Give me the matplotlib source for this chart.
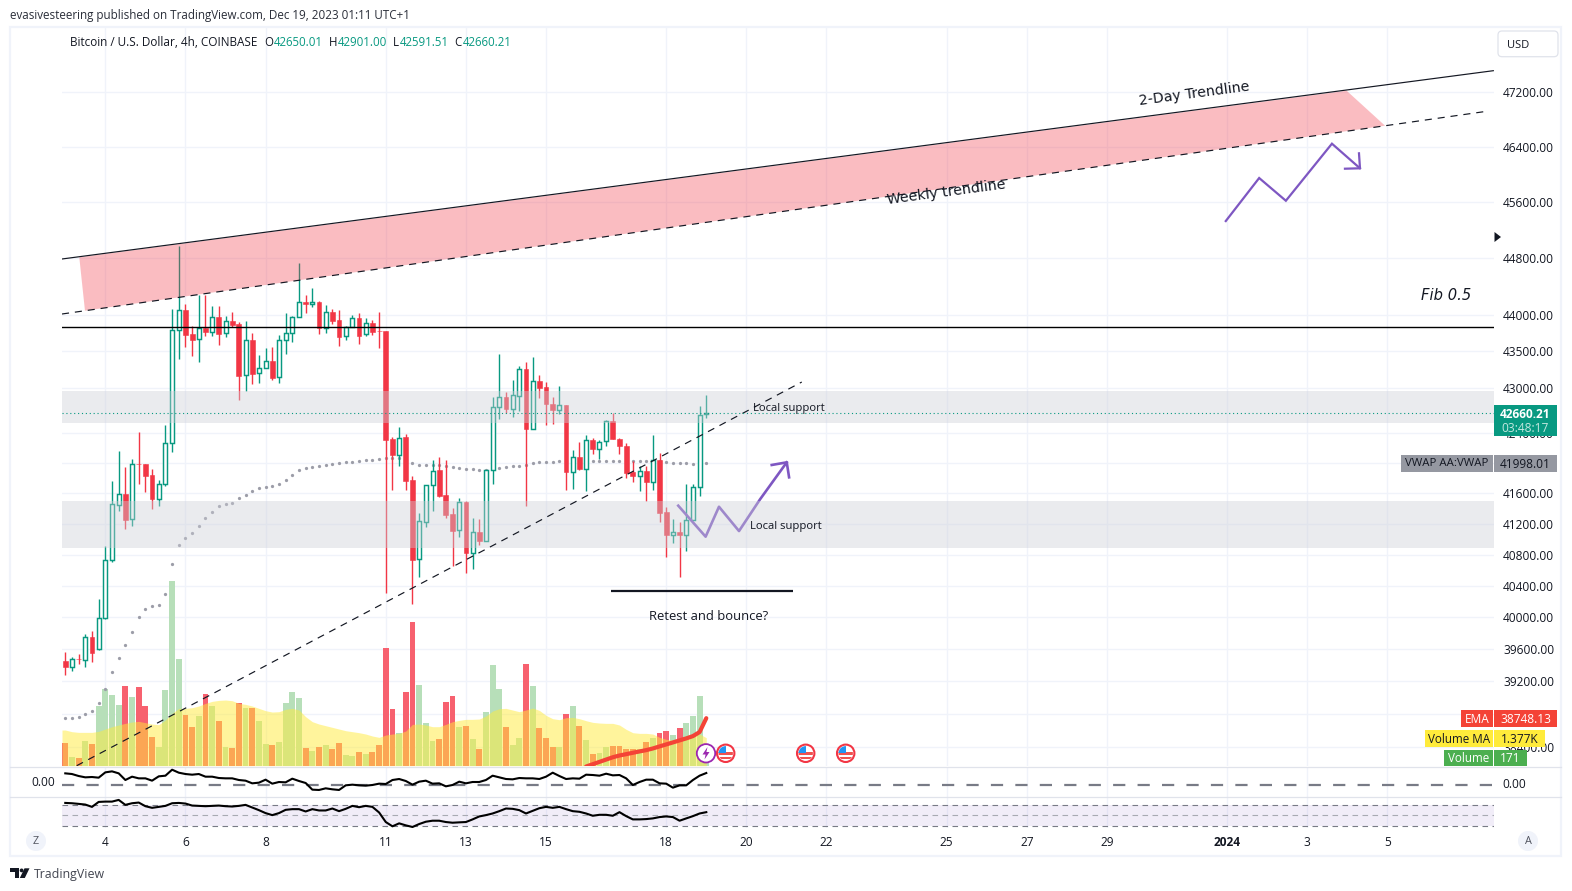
import numpy as np
import matplotlib
matplotlib.use("Agg")
import matplotlib.pyplot as plt
from matplotlib.patches import Rectangle, Circle, Polygon, FancyBboxPatch

# ---------- data ----------
opens = [39448,39382,39482,39465,39757,39600,39990,40727,41446,41592,41262,41983,41975,41830,41522,41717,42258,43792,44074,43742,
 43664,43815,43760,43977,43746,43921,43880,43170,43659,43197,43266,43370,43143,43654,43750,43972,44185,44153,44185,43820,
 44046,43935,43705,43830,43963,43733,43894,43783,43783,42307,42094,42334,41765,40739,41224,41709,41896,41570,41323,41114,
 41483,40820,41092,40970,41905,42745,42882,42714,42891,43257,42449,43094,43014,42789,42704,42775,41879,42076,41918,42303,
 42182,42290,42560,42316,42223,41870,41822,41892,41743,42036,41345,41058,41092,41054,41241,41683,42650.01]
highs = [39561,39498,39545,39795,39833,40230,40905,41756,42152,41940,42045,42405,41983,41913,41765,42502,44083,44968,44153,43852,
 44278,44282,44130,44130,43990,44046,43907,43921,43755,43452,43540,43553,43728,44028,43990,44726,44282,44378,44199,44139,
 44083,44074,43852,44000,44032,43958,43935,44046,43783,42334,42480,42383,41817,41332,41709,42040,42080,42040,41397,41527,
 41492,41270,41262,41905,42882,43463,42949,43111,43297,43352,43427,43180,43080,42874,43027,42775,42170,42267,42369,42325,
 42294,42569,42667,42330,42263,42018,41948,41948,42360,42129,41410,41258,41224,41713,41713,42755,42901.00]
lows = [39274,39324,39411,39374,39440,39590,39980,40700,41365,41130,41168,41713,41609,41390,41427,41687,42138,43397,43562,43438,
 43356,43710,43714,43590,43700,43830,42842,42954,43058,43071,43266,43111,43071,43466,43631,43972,44032,44106,43742,43746,
 43880,43576,43659,43830,43604,43714,43728,43549,40305,41635,41960,41635,40167,40518,41160,41362,41548,41267,40650,41020,
 40560,40612,40927,40970,41717,42578,42667,42604,42689,41431,42449,42860,42498,42520,42645,41635,41648,41896,41622,42107,
 42049,42214,42307,42107,41800,41743,41622,41496,41635,41219,40773,40952,40518,40846,41241,41557,42591.51]
closes = [39374,39482,39474,39757,39549,39990,40735,41450,41592,41245,41983,41975,41817,41518,41722,42263,43792,44070,43728,43659,
 43815,43760,43972,43742,43916,43866,43166,43654,43193,43270,43366,43134,43654,43750,43972,44180,44148,44180,43820,44042,
 43921,43700,43834,43958,43714,43889,43769,43774,42294,42094,42330,41756,40735,41228,41709,41892,41557,41310,41110,41475,
 40816,41088,40970,41905,42745,42877,42709,42904,43257,42445,43089,43005,42780,42700,42771,41874,42076,41909,42303,42178,
 42276,42556,42312,42214,41857,41817,41892,41739,42036,41336,41050,41088,41054,41241,41683,42635,42660.21]
volume = [1115,426,377,1214,1066,2936,3772,3477,2985,3920,3378,3870,2936,1410,918,3723,9086,5248,2493,1902,
 2444,3526,2936,2198,918,869,3083,2837,2837,2198,1066,1017,1164,3083,3624,3329,869,722,918,1017,
 820,1115,525,476,672,574,672,1017,5789,2788,1591,3624,7068,3969,2099,1214,1312,3132,3428,1902,
 1952,1312,820,2640,4953,3772,1902,1017,1361,5002,3920,1853,1361,918,918,2542,2936,1952,1263,574,
 623,918,968,968,820,820,820,1164,1361,1607,1706,1509,1853,2099,2444,3428,171]
volume_ma = [1755,1673,1640,1640,1640,1689,1804,1919,2001,2083,2148,2181,2116,2050,2017,2247,2575,2821,2821,2854,
 2936,3067,3165,3214,3231,3198,3067,3018,2936,2821,2706,2640,2657,2772,2821,2739,2411,2165,2050,1968,
 1886,1804,1722,1673,1624,1558,1460,1394,1509,1558,1591,1706,2034,2050,2001,1919,1919,2034,2165,2230,
 2280,2280,2296,2444,2690,2804,2821,2739,2657,2739,2837,2722,2476,2312,2263,2362,2378,2312,2214,2132,
 2099,2083,2083,2001,1788,1624,1591,1591,1558,1394,1296,1263,1296,1394,1492,1558,1377]
vwap = [38750,38750,38762,38798,38835,38935,39107,39320,39495,39657,39810,40000,40105,40138,40160,40290,40680,40922,41011,41075,
 41165,41267,41357,41427,41449,41462,41531,41579,41630,41670,41683,41691,41722,41774,41840,41905,41931,41944,41958,41971,
 41983,41996,42009,42009,42022,42031,42036,42049,42058,42063,42063,42030,41996,41970,41970,41970,41970,41957,41944,41931,
 41918,41918,41905,41905,41918,41931,41944,41957,41961,41970,41992,42005,42005,42010,42023,42023,42023,42023,42023,42023,
 42023,42023,42023,42018,42023,42023,42023,42018,42018,42018,42005,41996,41992,41990,41985,41990,41998.01]
ema_start = 78
ema = [38162,38190,38218,38246,38274,38295,38311,38328,38344,38360,38380,38405,38429,38453,38478,38502,38530,38579,38748.13]
osc = [35,33,27,23,24,22,38,41,35,15,25,20,20,13,26,28,46,37,33,31,33,25,25,21,20,20,15,13,5,7,16,4,9,8,19,12,6,-14,-15,-10,
 -13,-15,-1,1,-1,-2,0,4,3,15,18,12,1,10,13,4,5,-4,0,10,5,9,9,15,28,23,18,17,21,20,20,18,25,37,27,18,20,19,31,30,28,34,29,30,20,0,
 9,16,16,5,4,-8,-1,-1,15,28,36]
rsi = [73.1,72.5,71.3,70,65.6,75,75.6,75.6,78.8,69.4,72.5,73.8,66.9,63.8,65.6,67.5,72.5,73.1,71.9,68.1,
 67.5,66.9,67.5,68.1,66.9,66.3,67.5,69.4,64.4,59.4,53.8,50,53.8,60,61.3,61.3,56.9,61.3,58.8,58.8,
 62.5,57.5,61.9,67.5,65,67.5,65.6,55,36.9,28.8,34.4,30.6,27.5,33.1,37.5,39.4,39.4,36.9,35.6,36.3,
 36.9,41.9,47.5,50,53.1,57.5,62.5,61.9,59.4,53.1,58.1,63.1,65.6,63.8,65.6,61.3,57.5,56.3,53.1,48.8,
 50.6,50.6,48.8,55.6,48.1,41.9,41.9,42.5,43.8,46.3,47.5,46.3,39.4,43.8,48.1,53.1,55.6]

price_ticks = [47200,46400,45600,44800,44000,43500,43000,42400,42000,41600,41200,40800,40400,40000,39600,39200,38800,38400]
time_ticks = [6,18,30,48,60,72,90,102,114,132,144,156,174,186,198]
time_labels = ["4","6","8","11","13","15","18","20","22","25","27","29","2024","3","5"]

band_upper = (42531, 42958)
band_lower = (40887, 41494)
fib_level = 43830
last_price = 42660.21
two_day_x, two_day_y = [-0.49,213.87],[44784,47523]
weekly_x, weekly_y = [-0.49,213.12],[44014,46922]
pink_x, pink_y = [2.1,191.9,197.65,2.95],[44808,47224,46706,44060]
up_x, up_y = [1.71,110.3],[38172,43080]
path1_x, path1_y = [173.8,178.8,182.8,189.7,193.9],[45323,45942,45614,46442,46083]
head1_x, head1_y = [191.65,193.9,193.75],[46077,46083,46301]
path2_x, path2_y = [91.8,95.9,97.9,100.9,104.05,108.05],[41433,41030,41419,41103,41516,42003]
head2_x, head2_y = [105.8,108.05,108.4],[41968,42003,41805]
support_x, support_y = [81.8,109.0],[40337,40337]

# ---------- layout helpers ----------
W, H = 1572, 891
fig = plt.figure(figsize=(W/100, H/100), dpi=100, facecolor="white")
plt.rcParams["font.family"] = "Open Sans"
def pane(l, t, r, b, z):
    a = fig.add_axes([l/W, 1-b/H, (r-l)/W, (b-t)/H], zorder=z)
    a.patch.set_alpha(0)
    for s in a.spines.values():
        s.set_visible(False)
    a.set_xlim(-0.49, 213.97)
    a.minorticks_off()
    return a
TXT = "#131722"; GRID = "#f0f3fa"; UP = "#089981"; DN = "#f23645"; SEP = "#e0e3eb"
X0, X1, YT, YB = 62, 1494, 28, 765.7
ylim = (38172, 48167)
idx = np.arange(len(opens))

# background with grid and price scale
bg = pane(X0, YT, X1, YB, 1)
bg.set_yscale("log"); bg.set_ylim(*ylim)
bg.set_yticks(price_ticks); bg.set_yticklabels([f"{p:.2f}" for p in price_ticks])
bg.minorticks_off()
bg.yaxis.tick_right()
bg.tick_params(axis="y", length=0, pad=6.5, labelsize=8.6, labelcolor=TXT)
bg.set_xticks(time_ticks); bg.tick_params(axis="x", length=0, labelbottom=False)
bg.grid(True, color=GRID, lw=1.0)
bg.set_axisbelow(True)

# volume
av = pane(X0, YT, X1, YB, 2)
av.set_ylim(0, (YB-YT)*49.2); av.axis("off")
vcol = ["#b7dfb9" if c >= o else "#f7616f" for o, c in zip(opens, closes)]
av.bar(idx, volume, width=0.88, color=vcol, linewidth=0)
av.fill_between(np.r_[-0.49, idx], np.r_[volume_ma[0], volume_ma], 0, color="#ffeb3b", alpha=0.5, linewidth=0)

# price
ax = pane(X0, YT, X1, YB, 3)
ax.set_yscale("log"); ax.set_ylim(*ylim); ax.minorticks_off()
ax.axis("off")
ax.scatter(idx, vwap, s=5.5, color="#9c9da8", linewidths=0, zorder=2.5)
for i, (o, h, l, c) in enumerate(zip(opens, highs, lows, closes)):
    col = UP if c >= o else DN
    ax.plot([i, i], [l, h], color=col, lw=1.0, zorder=3, solid_capstyle="butt")
    top, bot = max(o, c), min(o, c)
    if c >= o:
        ax.bar(i, top-bot, bottom=bot, width=0.60, facecolor="white", edgecolor=col, linewidth=1.05, zorder=3.1)
    else:
        ax.bar(i, top-bot, bottom=bot, width=0.72, facecolor=col, edgecolor=col, linewidth=0.4, zorder=3.1)
PURPLE = "#7e57c2"
ax.plot(path1_x, path1_y, color=PURPLE, lw=1.6, zorder=3.5, solid_joinstyle="miter")
ax.plot(head1_x, head1_y, color=PURPLE, lw=1.6, zorder=3.5)
ax.plot(path2_x, path2_y, color=PURPLE, lw=1.9, zorder=3.5)
ax.plot(head2_x, head2_y, color=PURPLE, lw=1.9, zorder=3.5)
for lo, hi in (band_upper, band_lower):
    ax.axhspan(lo, hi, facecolor="#cdd0d8", alpha=0.41, linewidth=0, zorder=4)
ax.fill(pink_x, pink_y, facecolor="#f23645", alpha=0.33, linewidth=0, zorder=4)
ax.plot(two_day_x, two_day_y, color="#131722", lw=0.85, zorder=5)
ax.plot(weekly_x, weekly_y, color="#131722", lw=0.85, ls=(0, (6, 5)), zorder=5)
ax.plot(up_x, up_y, color="#131722", lw=0.85, ls=(0, (6, 5)), zorder=5)
ax.axhline(fib_level, color="#000000", lw=1.0, zorder=5)
ax.axhline(last_price, color=UP, lw=0.8, ls=(0, (1, 2.5)), zorder=5)
ax.plot(support_x, support_y, color="#131722", lw=1.6, zorder=5, solid_capstyle="butt")
ax.plot(idx[ema_start:], ema, color="#f44336", lw=3.0, zorder=5, solid_capstyle="round")

# oscillator pane
a1 = pane(X0, 766.7, X1, 797.3, 3)
a1.set_ylim(-37, 55)
a1.set_xticks(time_ticks); a1.set_yticks([])
a1.tick_params(axis="x", length=0, labelbottom=False)
a1.grid(True, axis="x", color=GRID, lw=1.0); a1.set_axisbelow(True)
a1.axhline(0, color="#787b86", lw=1.6, ls=(0, (5.5, 5.5)))
a1.plot(idx, osc, color="#000000", lw=1.5, zorder=4)

# RSI pane
a2 = pane(X0, 797.3, X1, 828, 3)
a2.set_ylim(25.6, 83.75)
a2.axhspan(30, 70, facecolor="#7e57c2", alpha=0.1, linewidth=0)
for lvl, c in ((70, "#787b86"), (50, "#a8aab2"), (30, "#787b86")):
    a2.axhline(lvl, color=c, lw=0.8, ls=(0, (5, 4)))
a2.set_xticks(time_ticks); a2.set_xticklabels(time_labels); a2.set_yticks([])
a2.tick_params(axis="x", length=0, pad=5.6, labelsize=8.6, labelcolor=TXT)
for tl, s in zip(a2.get_xticklabels(), time_labels):
    if s == "2024":
        tl.set_fontweight("bold")
a2.grid(True, axis="x", color=GRID, lw=1.0); a2.set_axisbelow(True)
a2.plot(idx, rsi, color="#000000", lw=1.5, zorder=4)

# ---------- overlay in figure pixels ----------
ov = fig.add_axes([0, 0, 1, 1], zorder=10)
ov.set_xlim(0, W); ov.set_ylim(H, 0); ov.axis("off"); ov.patch.set_alpha(0)
ov.add_patch(Rectangle((10, 27), 1551, 828.5, fill=False, edgecolor=GRID, lw=1.6))
for y in (766.5, 797.3):
    ov.plot([10, 1561], [y, y], color=SEP, lw=0.9)

def t(x, y, s, size=8.6, color=TXT, ha="left", va="center", **kw):
    return ov.text(x, y, s, fontsize=size, color=color, ha=ha, va=va, **kw)

t(10, 15, "evasivesteering published on TradingView.com, Dec 19, 2023 01:11 UTC+1", size=8.4, color="#2a2e39")
t(70, 42, "Bitcoin / U.S. Dollar, 4h, COINBASE", size=8.45)
for x, lab, xv, val in ((264, "O", 274, "42650.01"), (329, "H", 338, "42901.00"),
                        (393, "L", 400, "42591.51"), (454, "C", 463, "42660.21")):
    t(x, 42, lab, size=8.3)
    t(xv, 42, val, size=8.3, color=UP)

# annotations
t(1194, 93.5, "2-Day Trendline", size=10.2, ha="center", rotation=7.5, rotation_mode="anchor", family="DejaVu Sans")
t(946, 192, "Weekly trendline", size=10.2, ha="center", rotation=7.5, rotation_mode="anchor", family="DejaVu Sans")
t(1446.5, 295.5, "Fib 0.5", size=10.6, ha="center", style="italic", family="DejaVu Sans")
t(789, 408, "Local support", size=8.1, ha="center")
t(786, 527, "Local support", size=8.1, ha="center")
t(709, 617, "Retest and bounce?", size=9.4, ha="center")

# USD button and scale marks
ov.add_patch(FancyBboxPatch((1500, 33), 56, 21.7, boxstyle="round,pad=2,rounding_size=4", fc="white", ec=SEP, lw=0.9))
t(1507, 45.5, "USD", size=8.0)
ov.add_patch(Polygon([(1494.5, 232), (1494.5, 242), (1501, 237)], closed=True, fc=TXT, ec="none"))

# value labels
def box(x0, x1, y0, y1, c):
    ov.add_patch(Rectangle((x0, y0), x1-x0, y1-y0, fc=c, ec="none", zorder=5))
def boxtext(*a, **k):
    k.setdefault("zorder", 6)
    return t(*a, **k)
box(1494, 1556.7, 405, 435.7, UP)
boxtext(1525.5, 414.3, "42660.21", color="white", ha="center", fontweight="bold", size=8.6)
boxtext(1525.5, 428.7, "03:48:17", color="#c4e8e0", ha="center", size=8.6)
box(1401, 1493, 455, 471.7, "#9598a1"); box(1494, 1556.7, 455, 471.7, "#9598a1")
boxtext(1447, 464, "VWAP AA:VWAP", ha="center", size=8.2)
boxtext(1525.5, 464, "41998.01", ha="center", size=8.6)
box(1461, 1493, 710, 726.7, "#f44336"); box(1494, 1556.7, 710, 726.7, "#f44336")
boxtext(1477, 719.5, "EMA", color="white", ha="center", size=8.6)
boxtext(1525.5, 719.5, "38748.13", color="white", ha="center", size=8.6)
box(1425, 1493, 730, 746.7, "#ffeb3b"); box(1494, 1545, 730, 746.7, "#ffeb3b")
boxtext(1459, 739.5, "Volume MA", ha="center", size=8.4)
boxtext(1519.5, 739.5, "1.377K", ha="center", size=8.6)
box(1444, 1493, 750, 766, "#4caf50"); box(1494, 1527, 750, 766, "#4caf50")
boxtext(1468.5, 759, "Volume", color="white", ha="center", size=8.4)
boxtext(1510.5, 759, "171", color="white", ha="center", size=8.6)
t(1502, 784.5, "0.00", size=8.6)
t(31, 782, "0.00", size=8.6)

# round buttons
for cx, lab in ((36, "Z"), (1528, "A")):
    ov.add_patch(Circle((cx, 841), 10, fc=GRID, ec="none"))
    t(cx, 841, lab, size=7.8, ha="center", color="#50535e")

# event icons
def flag(cx, cy):
    c = Circle((cx, cy), 8.7, fc="white", ec="#f23645", lw=1.5, zorder=7)
    ov.add_patch(c)
    inner = Circle((cx, cy), 7.2, transform=ov.transData)
    for (x, y, w, h, col) in ((-8, -8, 16, 3.4, "#ffffff"), (-8, -1, 16, 2.4, "#ef5350"), (-8, 3.6, 16, 2.4, "#ef5350"),
                              (-8, -8, 8.5, 7.6, "#2196f3")):
        r = Rectangle((cx+x, cy+y), w, h, fc=col, ec="none", zorder=8)
        ov.add_patch(r); r.set_clip_path(inner)
flag(725.7, 753.3); flag(805.7, 753.3); flag(845.7, 753.3)
ov.add_patch(Circle((706, 753.3), 9.2, fc="white", ec="#9c27b0", lw=1.3, zorder=9))
ov.add_patch(Polygon([(707.5, 747), (702.5, 754.5), (705.6, 754.5), (704.5, 759.5), (709.5, 752), (706.4, 752)],
                     closed=True, fc="#9c27b0", ec="none", zorder=10))

# logo
ov.add_patch(Polygon([(10, 868.3), (19.3, 868.3), (19.3, 878), (15, 878), (15, 872), (10, 872)], closed=True, fc=TXT, ec="none"))
ov.add_patch(Circle((21.6, 870.4), 1.9, fc=TXT, ec="none"))
ov.add_patch(Polygon([(24.5, 868.3), (29.5, 868.3), (24.8, 878), (19.8, 878)], closed=True, fc=TXT, ec="none"))
t(33.5, 874.5, "TradingView", size=8.9, color="#434651")

fig.savefig("out.png", dpi=100, facecolor="white")
